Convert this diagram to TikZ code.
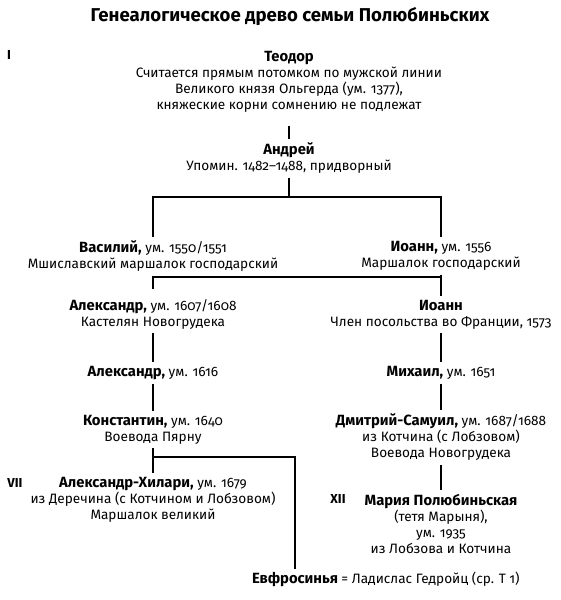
\documentclass[tikz,border=0pt]{standalone}
\usepackage{fontspec}
\setmainfont{Fira Sans}[Numbers=OldStyle]
\usetikzlibrary{positioning}
\newcommand{\pname}[1]{{\fontsize{14.8}{16}\selectfont\bfseries #1}}

\begin{document}
\begin{tikzpicture}[
  x=1pt, y=-1pt,
  person/.style={align=center, inner sep=0pt, outer ysep=4pt, font=\fontsize{13.6}{16}\selectfont},
  gen/.style={inner sep=0pt, font=\fontsize{13}{16}\selectfont\bfseries},
  heading/.style={inner sep=0pt, font=\fontsize{18.6}{22}\selectfont\bfseries},
  line/.style={draw, line width=1.2pt}
]
  \useasboundingbox (0,0) rectangle (561,600);

  \node[heading] (title) at (290,17) {Генеалогическое древо семьи Полюбиньских};

  \node[gen] (g1) at (9,55) {I};
  \node[gen] (g7) at (15,483) {VII};
  \node[gen] (g12) at (338,499) {XII};

  \node[person] (teodor) at (289,82) {\pname{Теодор}\\
    Считается прямым потомком по мужской линии\\
    Великого князя Ольгерда (ум. 1377),\\
    княжеские корни сомнению не подлежат};
  \node[person] (andrey) at (289,158.5) {\pname{Андрей}\\Упомин. 1482–1488, придворный};

  \node[person] (vasily) at (153,256) {\pname{Василий,} ум. 1550/1551\\Мшиславский маршалок господарский};
  \node[person] (ioann1) at (441,256) {\pname{Иоанн,} ум. 1556\\Маршалок господарский};

  \node[person] (alex1) at (153,314.5) {\pname{Александр,} ум. 1607/1608\\Кастелян Новогрудека};
  \node[person] (ioann2) at (441,314.5) {\pname{Иоанн}\\Член посольства во Франции, 1573};

  \node[person] (alex2) at (153,373) {\pname{Александр,} ум. 1616};
  \node[person] (mikhail) at (441,373) {\pname{Михаил,} ум. 1651};

  \node[person] (konst) at (153,429.5) {\pname{Константин,} ум. 1640\\Воевода Пярну};
  \node[person] (dmitry) at (441,437.5) {\pname{Дмитрий-Самуил,} ум. 1687/1688\\
    из Котчина (с Лобзовом)\\Воевода Новогрудека};

  \node[person] (alexh) at (153,499.5) {\pname{Александр-Хилари,} ум. 1679\\
    из Деречина (с Котчином и Лобзовом)\\Маршалок великий};
  \node[person] (maria) at (441,524) {\pname{Мария Полюбиньская}\\(тетя Марыня),\\
    ум. 1935\\из Лобзова и Котчина};

  \node[person] (efros) at (295,580) {\pname{Евфросинья}};
  \node[person, base right=3pt of efros] (spouse) {= Ладислас Гедройц (ср. Т 1)};

  \coordinate (fork1) at (289,197);
  \coordinate (fork2) at (441,277);
  \coordinate (fork3) at (153,457);

  \path[line, shorten <=9pt] (teodor.south) -- (andrey.north);
  \path[line] (andrey.south) -- (fork1);
  \path[line] (vasily.north) |- (fork1) -| (ioann1.north);
  \path[line] (ioann1.south) -- (ioann2.north);
  \path[line, shorten <=7pt] (alex1.north) |- (fork2);
  \path[line] (alex1.south) -- (alex2.north);
  \path[line] (alex2.south) -- (konst.north);
  \path[line] (ioann2.south) -- (mikhail.north);
  \path[line] (mikhail.south) -- (dmitry.north);
  \path[line] (konst.south) -- (alexh.north);
  \path[line] (fork3) -| (efros.north);
  \path[line] (dmitry.south) -- (maria.north);
\end{tikzpicture}
\end{document}
